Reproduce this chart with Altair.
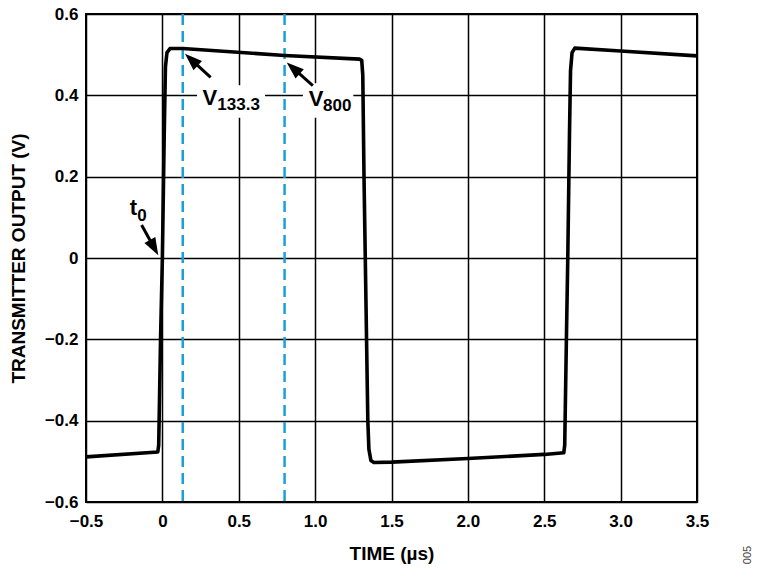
import math
import altair as alt
import pandas as pd

# ---- waveform (time in µs, output in V) ----
t_us = [-0.5, -0.03, -0.024, -0.012, 0.0, 0.012, 0.02, 0.03, 0.05, 0.133, 0.8, 1.29,
        1.305, 1.312, 1.32, 1.345, 1.352, 1.365, 1.385, 1.5, 2.0, 2.5, 2.628,
        2.634, 2.645, 2.654, 2.665, 2.672, 2.682, 2.70, 3.0, 3.5]
v_out = [-0.489, -0.477, -0.46, -0.2, 0.0, 0.3, 0.47, 0.505, 0.515, 0.515, 0.498, 0.489,
         0.486, 0.45, 0.2, -0.4, -0.47, -0.498, -0.503, -0.502, -0.493, -0.483, -0.479,
         -0.46, -0.2, 0.0, 0.3, 0.46, 0.505, 0.516, 0.509, 0.497]

# ---- measurement markers ----
marker_t = [0.1333, 0.8]

# ---- arrows: tail and tip ----
arrow_tail_t = [0.316, 0.985, -0.136]
arrow_tail_v = [0.444, 0.424, 0.081]
arrow_tip_t = [0.148, 0.814, -0.027]
arrow_tip_v = [0.502, 0.481, 0.007]

# ---- annotation labels ----
main_text = ["V", "V", "t"]
main_t = [0.262, 0.958, -0.214]
main_v = [0.377, 0.375, 0.106]
sub_text = ["133.3", "800", "0"]
sub_t = [0.36, 1.052, -0.164]
sub_v = [0.364, 0.361, 0.092]

# white boxes behind the V labels
box_t1 = [0.227, 0.92]
box_t2 = [0.672, 1.25]
box_v1 = [0.345, 0.345]
box_v2 = [0.425, 0.43]

x_ticks = [-0.5, 0.0, 0.5, 1.0, 1.5, 2.0, 2.5, 3.0, 3.5]
y_ticks = [-0.6, -0.4, -0.2, 0.0, 0.2, 0.4, 0.6]

W, H = 611, 488
XMIN, XMAX = -0.5, 3.5
YMIN, YMAX = -0.6, 0.6
px_x = W / (XMAX - XMIN)
px_y = H / (YMAX - YMIN)

FONT = "Liberation Sans"
CYAN = "#1b9fd8"

wave = pd.DataFrame({"t": t_us, "v": v_out, "o": list(range(len(t_us)))})
markers = pd.DataFrame({"t": marker_t})

rows = []
for a, b, c, d in zip(arrow_tail_t, arrow_tail_v, arrow_tip_t, arrow_tip_v):
    dx = (c - a) * px_x
    dyu = (d - b) * px_y
    L = math.hypot(dx, dyu)
    f = 9.0 / L
    ang = math.degrees(math.atan2(dx, dyu)) % 360
    rows.append({"t": a, "v": b, "t2": c + (a - c) * f, "v2": d + (b - d) * f,
                 "tip_t": c, "tip_v": d, "ang": ang})
arrows = pd.DataFrame(rows)

mains = pd.DataFrame({"txt": main_text, "t": main_t, "v": main_v})
subs = pd.DataFrame({"txt": sub_text, "t": sub_t, "v": sub_v})
boxes = pd.DataFrame({"t": box_t1, "t2": box_t2, "v": box_v1, "v2": box_v2})

lab_expr = "datum.value == 0 ? '0' : replace(format(datum.value, '.1f'), '-', '\u2013')"

xs = alt.Scale(domain=[XMIN, XMAX], nice=False, zero=False)
ys = alt.Scale(domain=[YMIN, YMAX], nice=False, zero=False)

x_axis = alt.Axis(values=x_ticks, grid=True, ticks=False, domain=False,
                  labelExpr=lab_expr, title="TIME (µs)", labelPadding=11,
                  labelFlush=False, labelOverlap=False,
                  titleY=51, titleBaseline="middle")
y_axis = alt.Axis(values=y_ticks, grid=True, ticks=False, domain=False,
                  labelExpr=lab_expr, title="TRANSMITTER OUTPUT (V)", labelPadding=8,
                  labelFlush=False, labelOverlap=False,
                  titleX=-68, titleY=244, titleAngle=270, titleAlign="center",
                  titleBaseline="middle")

base_box = alt.Chart(boxes).mark_rect(color="white").encode(
    x=alt.X("t:Q", scale=xs, axis=x_axis),
    x2="t2:Q",
    y=alt.Y("v:Q", scale=ys, axis=y_axis),
    y2="v2:Q",
)

dash = alt.Chart(markers).mark_rule(color=CYAN, strokeWidth=2.5, strokeDash=[11, 6]).encode(
    x=alt.X("t:Q", scale=xs),
)

line = alt.Chart(wave).mark_line(color="black", strokeWidth=3.6, strokeJoin="round").encode(
    x=alt.X("t:Q", scale=xs),
    y=alt.Y("v:Q", scale=ys),
    order="o:Q",
)

shaft = alt.Chart(arrows).mark_rule(color="black", strokeWidth=3).encode(
    x=alt.X("t:Q", scale=xs), y=alt.Y("v:Q", scale=ys), x2="t2:Q", y2="v2:Q",
)

head = alt.Chart(arrows).mark_point(
    shape="M0,0 L0.36,1 L-0.36,1 Z", filled=True, color="black", opacity=1, size=1200,
    strokeWidth=0,
).encode(
    x=alt.X("tip_t:Q", scale=xs), y=alt.Y("tip_v:Q", scale=ys),
    angle=alt.Angle("ang:Q", scale=None),
)

mtext = alt.Chart(mains).mark_text(align="left", baseline="alphabetic", font=FONT,
                                   fontWeight="bold", fontSize=22, color="black").encode(
    x=alt.X("t:Q", scale=xs), y=alt.Y("v:Q", scale=ys), text="txt:N",
)
stext = alt.Chart(subs).mark_text(align="left", baseline="alphabetic", font=FONT,
                                  fontWeight="bold", fontSize=17, color="black").encode(
    x=alt.X("t:Q", scale=xs), y=alt.Y("v:Q", scale=ys), text="txt:N",
)

fig_id = alt.Chart(pd.DataFrame({"txt": ["005"]})).mark_text(
    angle=270, font=FONT, fontSize=11, color="#444444", align="center", baseline="middle"
).encode(x=alt.value(662), y=alt.value(541), text="txt:N")

chart = alt.layer(base_box, dash, line, shaft, head, mtext, stext, fig_id).properties(
    width=W, height=H,
    autosize=alt.AutoSizeParams(type="none"),
    padding={"left": 78, "top": 6, "right": 55, "bottom": 67},
).configure_view(
    stroke="black", strokeWidth=2,
).configure_axis(
    gridColor="black", gridWidth=1.5, gridOpacity=1,
    labelFont=FONT, labelFontWeight="bold", labelFontSize=17, labelColor="black",
    titleFont=FONT, titleFontWeight="bold", titleFontSize=19, titleColor="black",
)

chart.save("out.html", embed_options={"renderer": "svg", "actions": False})
